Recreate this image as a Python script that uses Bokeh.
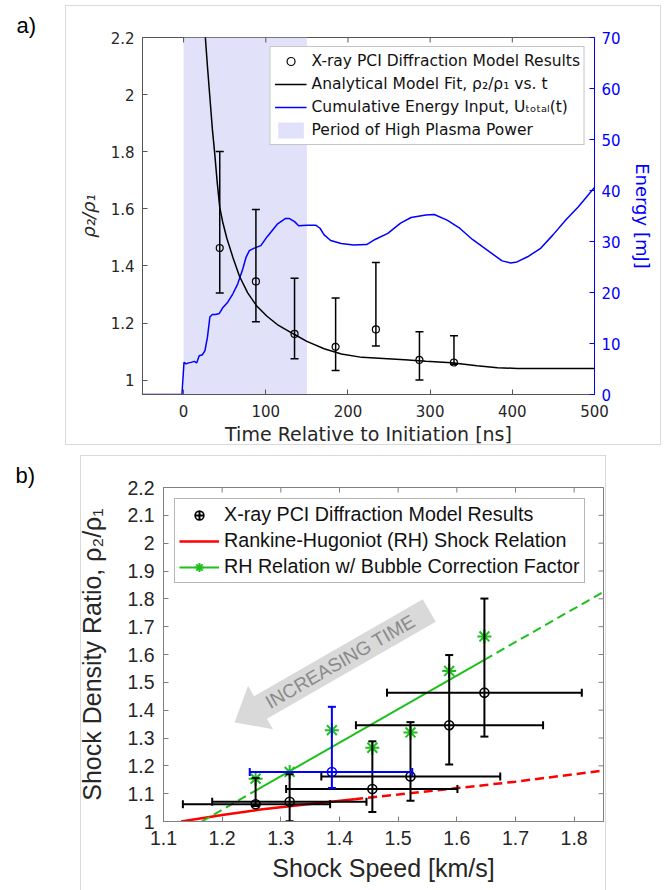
import math
import numpy as np
from bokeh.plotting import figure
from bokeh.models import (ColumnDataSource, Range1d, LinearAxis, FixedTicker, NumeralTickFormatter,
                          Whisker, TeeHead, Legend, LegendItem, InlineStyleSheet)
from bokeh.layouts import column
from bokeh.embed import file_html
from bokeh.resources import INLINE

# ---------------- panel a) data ----------------
pci_time = [44, 88, 135, 185, 234, 287, 329]
pci_ratio = [1.463, 1.346, 1.162, 1.117, 1.178, 1.071, 1.062]
pci_ratio_lo = [1.305, 1.205, 1.075, 1.034, 1.120, 1.001, 1.056]
pci_ratio_hi = [1.801, 1.598, 1.357, 1.288, 1.412, 1.170, 1.156]

fit_time = [25, 26.5, 29, 32, 35, 38, 41, 44, 47.5, 52.6, 60, 68, 78, 88.7, 101.5, 114, 135, 150,
            171, 192, 217, 243, 269, 295, 326, 357, 382, 406, 450, 500]
fit_ratio = [2.27, 2.2, 2.1, 1.99, 1.88, 1.79, 1.69, 1.605, 1.555, 1.497, 1.43, 1.364, 1.306, 1.261,
             1.224, 1.195, 1.16, 1.136, 1.11, 1.092, 1.08, 1.076, 1.072, 1.066, 1.061, 1.051, 1.044,
             1.041, 1.041, 1.041]

energy_time = [-50, -2, 0.5, 3, 6, 9, 13, 16, 19, 23, 26, 29, 32, 35, 39, 43.5, 47.6, 53.7, 59.8,
               65.9, 72, 76, 80, 86, 94, 101.5, 114, 123.7, 128.9, 135, 140, 150.5, 160.8, 166, 171,
               179, 191.7, 207, 222.7, 233, 248.5, 264, 276.8, 294.8, 305, 320.6, 336, 351.5, 372,
               387.6, 398, 405.7, 418.6, 434, 449.5, 465, 480.4, 500]
energy_mj = [0, 0, 6.3, 6.0, 6.2, 6.3, 6.5, 6.2, 7.6, 7.8, 8.6, 11.2, 15.2, 15.7, 15.7, 15.9, 17.0,
             18.1, 19.7, 21.7, 24.6, 26.9, 28.2, 28.7, 29.2, 30.9, 33.4, 34.5, 34.5, 33.9, 33.1, 33.2,
             33.2, 32.6, 31.3, 30.2, 29.6, 29.3, 29.4, 30.4, 31.6, 33.6, 34.7, 35.2, 35.3, 34.2, 32.6,
             30.4, 28.0, 26.2, 25.8, 26.0, 27.0, 28.6, 31.3, 34.2, 36.8, 40.6]

plasma_period = [0, 150]

a_xticks = [0, 100, 200, 300, 400, 500]
a_yticks = [1.0, 1.2, 1.4, 1.6, 1.8, 2.0, 2.2]
a_eticks = [0, 10, 20, 30, 40, 50, 60, 70]

# ---------------- panel b) data ----------------
shock_speed = [1.647, 1.587, 1.521, 1.456, 1.387, 1.315, 1.257]
shock_speed_lo = [1.481, 1.428, 1.369, 1.309, 1.247, 1.183, 1.133]
shock_speed_hi = [1.813, 1.747, 1.674, 1.601, 1.524, 1.446, 1.384]
bubble_ratio = [1.665, 1.541, 1.320, 1.265, 1.328, 1.178, 1.154]
highlight_index = 4

rh_speed = [1.13, 1.2, 1.265, 1.35, 1.425, 1.5, 1.6, 1.7, 1.85]
rh_ratio = [1.0, 1.023, 1.043, 1.063, 1.08, 1.097, 1.12, 1.143, 1.183]
rh_solid_count = 5

fitline_speed = [1.165, 1.257, 1.647, 1.85]
fitline_ratio = [1.0, 1.111, 1.581, 1.825]

b_xticks = [1.1, 1.2, 1.3, 1.4, 1.5, 1.6, 1.7, 1.8]
b_yticks = [1.0, 1.1, 1.2, 1.3, 1.4, 1.5, 1.6, 1.7, 1.8, 1.9, 2.0, 2.1, 2.2]

arrow_tip = (1.221, 1.356)
arrow_tail = (1.553, 1.758)
arrow_text = "INCREASING TIME"

# ---------------- styling ----------------
FA = "DejaVu Sans"
FB = "Liberation Sans"
BLUE = "#0000FF"
GREEN = "#1EC01E"
RED = "#FF0000"
AXC_A = "#555555"
AXC_B = "#808080"
TICK_LEN = 5


def style_axis(ax, font, size, color, label_color="#262626", standoff=7):
    ax.major_tick_in = TICK_LEN
    ax.major_tick_out = 0
    ax.minor_tick_line_color = None
    ax.axis_line_color = color
    ax.major_tick_line_color = color
    ax.major_label_text_font = font
    ax.major_label_text_font_size = size
    ax.major_label_text_color = label_color
    ax.major_label_standoff = standoff


def style_label(ax, text, font, size, color="#262626", standoff=5, style="normal"):
    ax.axis_label = text
    ax.axis_label_text_font = font
    ax.axis_label_text_font_size = size
    ax.axis_label_text_font_style = style
    ax.axis_label_text_color = color
    ax.axis_label_standoff = standoff


def panel_title(p, text, x_left_px):
    p.title.text = text
    p.title.align = "left"
    p.title.offset = x_left_px
    p.title.standoff = 0
    p.title.vertical_align = "bottom"
    p.title.text_font = FB
    p.title.text_font_size = "22px"
    p.title.text_font_style = "normal"
    p.title.text_color = "black"


def frame_box(p, left, top, width, height):
    css = (":host::after{content:'';position:absolute;left:%dpx;top:%dpx;width:%dpx;height:%dpx;"
           "border:1px solid #d9d9d9;pointer-events:none;box-sizing:border-box;}"
           % (left, top, width, height))
    p.stylesheets = [InlineStyleSheet(css=css)]


# ================= panel a =================
A_W, A_H = 668, 448
A_L, A_T, A_FW, A_FH = 142, 37, 452, 357
p1 = figure(width=A_W, height=A_H, x_range=Range1d(-50, 500), y_range=Range1d(0.95, 2.2),
            output_backend="svg", toolbar_location=None,
            min_border_left=A_L, min_border_right=A_W - A_L - A_FW,
            min_border_top=A_T, min_border_bottom=A_H - A_T - A_FH)
p1.frame_align = False
p1.extra_y_ranges = {"energy": Range1d(0, 70)}
p1.grid.visible = False
p1.outline_line_color = AXC_A
p1.background_fill_color = "white"
p1.border_fill_color = "white"

r_quad = p1.quad(left=[plasma_period[0]], right=[plasma_period[1]],
                 bottom=[p1.y_range.start], top=[p1.y_range.end],
                 fill_color="#E1E1FA", line_color=None, level="image")
r_energy = p1.line(energy_time, energy_mj, y_range_name="energy", line_color=BLUE, line_width=1.5)
r_fit = p1.line(fit_time, fit_ratio, line_color="black", line_width=1.5)

src_a = ColumnDataSource(dict(t=pci_time, r=pci_ratio, lo=pci_ratio_lo, hi=pci_ratio_hi))
p1.add_layout(Whisker(source=src_a, base="t", lower="lo", upper="hi", dimension="height",
                      line_color="black", line_width=1.5, level="glyph",
                      upper_head=TeeHead(size=8, line_color="black", line_width=1.5),
                      lower_head=TeeHead(size=8, line_color="black", line_width=1.5)))
r_circ_a = p1.scatter("t", "r", source=src_a, marker="circle", size=7, fill_alpha=0,
                      line_color="black", line_width=1.2)

# mirrored (inward) x ticks along the top edge
a_sy = A_FH / (p1.y_range.end - p1.y_range.start)
p1.segment(x0=a_xticks, x1=a_xticks, y0=[p1.y_range.end] * len(a_xticks),
           y1=[p1.y_range.end - TICK_LEN / a_sy] * len(a_xticks), line_color=AXC_A, line_width=1)

xa = p1.xaxis[0]
xa.ticker = FixedTicker(ticks=a_xticks)
style_axis(xa, FA, "15px", AXC_A, standoff=10)
style_label(xa, "Time Relative to Initiation [ns]", FA, "19px", standoff=3)

ya = p1.yaxis[0]
ya.ticker = FixedTicker(ticks=a_yticks)
ya.formatter = NumeralTickFormatter(format="0.[0]")
style_axis(ya, FA, "15px", AXC_A, standoff=8)
style_label(ya, "ρ₂/ρ₁", FA, "18px", standoff=9, style="italic")

ea = LinearAxis(y_range_name="energy", ticker=FixedTicker(ticks=a_eticks))
style_axis(ea, FA, "15px", BLUE, label_color=BLUE, standoff=7)
style_label(ea, "Energy [mJ]", FA, "18px", color=BLUE, standoff=8)
p1.add_layout(ea, "right")

leg_a = Legend(items=[
    LegendItem(label="X-ray PCI Diffraction Model Results", renderers=[r_circ_a]),
    LegendItem(label="Analytical Model Fit, ρ₂/ρ₁ vs. t", renderers=[r_fit]),
    LegendItem(label="Cumulative Energy Input, Uₜₒₜₐₗ(t)", renderers=[r_energy]),
    LegendItem(label="Period of High Plasma Power", renderers=[r_quad]),
], location="top_right", margin=9, padding=4, spacing=3, glyph_width=32, glyph_height=20,
    label_height=20, label_standoff=5, label_text_font=FA, label_text_font_size="15.5px",
    label_text_color="#111111", border_line_color="#8c8c8c", border_line_width=1,
    background_fill_color="white", background_fill_alpha=1)
p1.add_layout(leg_a)

panel_title(p1, "a)", 16 - A_L)
frame_box(p1, 65, 5, 596, 440)

# ================= panel b =================
B_W, B_H = 668, 442
B_L, B_T, B_FW, B_FH = 163, 39, 440, 334
p2 = figure(width=B_W, height=B_H, x_range=Range1d(1.1, 1.85), y_range=Range1d(1.0, 2.2),
            output_backend="svg", toolbar_location=None,
            min_border_left=B_L, min_border_right=B_W - B_L - B_FW,
            min_border_top=B_T, min_border_bottom=B_H - B_T - B_FH)
p2.frame_align = False
p2.grid.visible = False
p2.outline_line_color = AXC_B
p2.background_fill_color = "white"
p2.border_fill_color = "white"

sx = B_FW / (p2.x_range.end - p2.x_range.start)
sy = B_FH / (p2.y_range.end - p2.y_range.start)

# "increasing time" arrow (annotation)
dx = (arrow_tail[0] - arrow_tip[0]) * sx
dy = (arrow_tail[1] - arrow_tip[1]) * sy
L = math.hypot(dx, dy)
ux, uy = dx / L, dy / L
nx, ny = -uy, ux
Lh, Wh, Ws = 30.0, 25.0, 13.0
pts = [(0, 0), (Lh, Wh), (Lh, Ws), (L, Ws), (L, -Ws), (Lh, -Ws), (Lh, -Wh)]
ax_x = [arrow_tip[0] + (a * ux + b * nx) / sx for a, b in pts]
ax_y = [arrow_tip[1] + (a * uy + b * ny) / sy for a, b in pts]
p2.patch(ax_x, ax_y, fill_color="#D9D9D9", line_color=None)
dmid = 122.0
p2.text(x=[arrow_tip[0] + dmid * ux / sx], y=[arrow_tip[1] + dmid * uy / sy], text=[arrow_text],
        angle=math.atan2(dy, dx), text_align="center", text_baseline="middle",
        text_font={"value": FB}, text_font_size="19px", text_color="#8a8a8a")

# mirrored (inward) ticks on top and right edges
p2.segment(x0=b_xticks, x1=b_xticks, y0=[p2.y_range.end] * len(b_xticks),
           y1=[p2.y_range.end - TICK_LEN / sy] * len(b_xticks), line_color=AXC_B, line_width=1)
p2.segment(x0=[p2.x_range.end] * len(b_yticks), x1=[p2.x_range.end - TICK_LEN / sx] * len(b_yticks),
           y0=b_yticks, y1=b_yticks, line_color=AXC_B, line_width=1)

# RH relation (red)
r_rh = p2.line(rh_speed[:rh_solid_count], rh_ratio[:rh_solid_count], line_color=RED, line_width=2.5)
p2.line(rh_speed[rh_solid_count - 1:], rh_ratio[rh_solid_count - 1:], line_color=RED,
        line_width=2.5, line_dash="9 5")
# bubble-corrected fit (green)
r_gl = p2.line(fitline_speed[1:3], fitline_ratio[1:3], line_color=GREEN, line_width=2)
p2.line(fitline_speed[0:2], fitline_ratio[0:2], line_color=GREEN, line_width=2, line_dash="9 5")
p2.line(fitline_speed[2:4], fitline_ratio[2:4], line_color=GREEN, line_width=2, line_dash="9 5")

idx_black = [i for i in range(len(shock_speed)) if i != highlight_index]
idx_blue = [highlight_index]


def sub(arr, idx):
    return [arr[i] for i in idx]


def errorbars(idx, color):
    src = ColumnDataSource(dict(s=sub(shock_speed, idx), slo=sub(shock_speed_lo, idx),
                                shi=sub(shock_speed_hi, idx), r=sub(pci_ratio, idx),
                                lo=sub(pci_ratio_lo, idx), hi=sub(pci_ratio_hi, idx)))
    for dim, base, lo, hi in (("height", "s", "lo", "hi"), ("width", "r", "slo", "shi")):
        p2.add_layout(Whisker(source=src, base=base, lower=lo, upper=hi, dimension=dim,
                              line_color=color, line_width=2, level="glyph",
                              upper_head=TeeHead(size=8, line_color=color, line_width=2),
                              lower_head=TeeHead(size=8, line_color=color, line_width=2)))
    return p2.scatter("s", "r", source=src, marker="circle", size=9, fill_alpha=0,
                      line_color=color, line_width=1.6)


r_circ_b = errorbars(idx_black, "black")
errorbars(idx_blue, BLUE)
r_star = p2.scatter(shock_speed, bubble_ratio, marker="asterisk", size=14, line_color=GREEN,
                    line_width=2)
r_cross_b = p2.scatter([np.nan], [np.nan], marker="cross", size=9, line_color="black", line_width=2)

xb = p2.xaxis[0]
xb.ticker = FixedTicker(ticks=b_xticks)
xb.formatter = NumeralTickFormatter(format="0.[0]")
style_axis(xb, FB, "19.5px", AXC_B, label_color="#262626", standoff=9)
style_label(xb, "Shock Speed [km/s]", FB, "25px", standoff=6)

yb = p2.yaxis[0]
yb.ticker = FixedTicker(ticks=b_yticks)
yb.formatter = NumeralTickFormatter(format="0.[0]")
style_axis(yb, FB, "19.5px", AXC_B, label_color="#262626", standoff=9)
style_label(yb, "Shock Density Ratio, ρ₂/ρ₁", FB, "25px", standoff=18)

leg_b = Legend(items=[
    LegendItem(label="X-ray PCI Diffraction Model Results", renderers=[r_cross_b, r_circ_b]),
    LegendItem(label="Rankine-Hugoniot (RH) Shock Relation", renderers=[r_rh]),
    LegendItem(label="RH Relation w/ Bubble Correction Factor", renderers=[r_gl, r_star]),
], location="top_left", margin=11, padding=4, spacing=3, glyph_width=40, glyph_height=22,
    label_height=22, label_standoff=5, label_text_font=FB, label_text_font_size="19.7px",
    label_text_color="#111111", border_line_color="#6e6e6e", border_line_width=1,
    background_fill_color="white", background_fill_alpha=1)
p2.add_layout(leg_b)

panel_title(p2, "b)", 15 - B_L)
frame_box(p2, 80, 7, 526, 450)

layout = column(p1, p2)
open("out.html", "w").write(file_html(layout, INLINE))
